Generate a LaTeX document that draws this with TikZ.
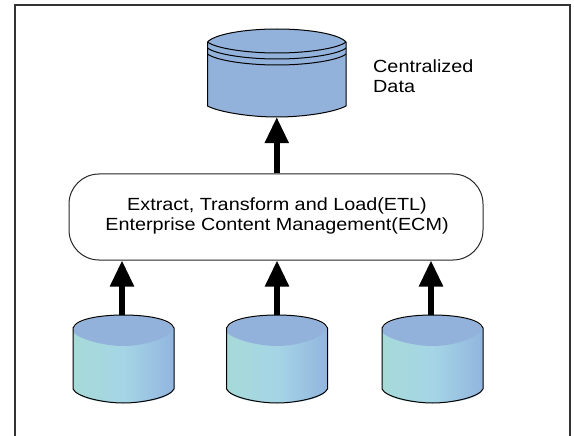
\documentclass[tikz,border=0pt]{standalone}
\usepackage{fontspec}
\setmainfont{Liberation Sans}
\newfontfamily\widesans[FakeStretch=1.125]{Liberation Sans}
\usetikzlibrary{arrows.meta}
\definecolor{dbtop}{HTML}{92B2DC}
\definecolor{dbleft}{HTML}{A6DAD8}
\definecolor{dbmid}{HTML}{A5D5E6}
\definecolor{dbright}{HTML}{92B5DE}
\definecolor{frameline}{HTML}{333333}
\tikzset{
  x=1pt,y=-1pt,
  framebox/.style={draw=frameline,line width=1.4pt},
  hubbox/.style={draw=black!85,fill=white,line width=1pt,rounded corners=30pt,minimum width=414pt,minimum height=86pt,inner sep=0pt},
  hubtext/.style={inner sep=0pt,align=center,font=\widesans\fontsize{17.6}{20}\selectfont},
  flow/.style={line width=5.5pt,draw=black,-{Triangle[length=26pt,width=23pt]},shorten >=0pt},
  dbanchor/.style={inner sep=0pt,minimum width=101pt,minimum height=88pt},
  toplabel/.style={anchor=west,align=left,inner sep=0pt,font=\widesans\fontsize{17.6}{20}\selectfont},
  outline/.style={draw=black,line width=1pt,line join=round},
  pics/smalldb/.style={code={
    \path[left color=dbleft,right color=dbright,middle color=dbmid,shading angle=90,shade]
      (-50.5,-30) -- (-50.5,30) .. controls (-45,41) and (-20,44) .. (0,44) .. controls (20,44) and (45,41) .. (50.5,30) -- (50.5,-30) -- cycle;
    \fill[dbtop] (-50.5,-30) .. controls (-45,-41) and (-20,-44) .. (0,-44) .. controls (20,-44) and (45,-41) .. (50.5,-30)
      -- (50.5,-31) .. controls (45,-20) and (20,-13) .. (0,-13) .. controls (-20,-13) and (-45,-20) .. (-50.5,-27) -- cycle;
    \draw[outline] (-50.5,30) -- (-50.5,-31) .. controls (-47,-41) and (-20,-44) .. (0,-44) .. controls (20,-44) and (47,-41) .. (50.5,-31)
      -- (50.5,30) .. controls (47,38) and (20,44) .. (0,44) .. controls (-20,44) and (-47,38) .. (-50.5,30);
  }}
}
\begin{document}
\begin{tikzpicture}
\useasboundingbox (0,0) rectangle (574,436);
\draw[framebox] (15,440) -- (15,5) -- (570,5) -- (570,440);

% top store
\fill[dbtop] (207.5,42) .. controls (215,34) and (245,29) .. (277,29) .. controls (309,29) and (339,34) .. (346,42)
  -- (346,106) .. controls (335,112) and (305,117) .. (277,117) .. controls (249,117) and (219,112) .. (207.5,106) -- cycle;
\draw[outline] (207.5,42) .. controls (215,34) and (245,29) .. (277,29) .. controls (309,29) and (339,34) .. (346,42)
  -- (346,106) .. controls (335,112) and (305,117) .. (277,117) .. controls (249,117) and (219,112) .. (207.5,106) -- cycle;
\draw[outline] (207.5,42) .. controls (215,48) and (245,53) .. (277,53) .. controls (309,53) and (339,48) .. (346,42);
\draw[outline] (207.5,48) .. controls (215,54) and (245,59) .. (277,59) .. controls (309,59) and (339,54) .. (346,48);
\draw[outline] (207.5,54) .. controls (215,60) and (245,65) .. (277,65) .. controls (309,65) and (339,60) .. (346,54);
\node[inner sep=0pt,minimum width=138.5pt,minimum height=88pt] (central) at (276.75,73) {};
\node[toplabel] (centlabel) at (373,76) {Centralized\\Data};

% hub
\node[hubbox] (hub) at (276,217) {};
\node[hubtext] (hubtxt) at (277,215.5) {Extract, Transform and Load(ETL)\\Enterprise Content Management(ECM)};

% sources
\pic at (123.5,359) {smalldb};
\node[dbanchor] (srcA) at (122,359) {};
\pic at (277,359) {smalldb};
\node[dbanchor] (srcB) at (277,359) {};
\pic at (432.5,359) {smalldb};
\node[dbanchor] (srcC) at (431,359) {};

% flows
\draw[flow] (srcA.north) -- (srcA.north |- hub.south);
\draw[flow] (srcB.north) -- (srcB.north |- hub.south);
\draw[flow] (srcC.north) -- (srcC.north |- hub.south);
\draw[flow] (central.south |- hub.north) -- (central.south);
\end{tikzpicture}
\end{document}
